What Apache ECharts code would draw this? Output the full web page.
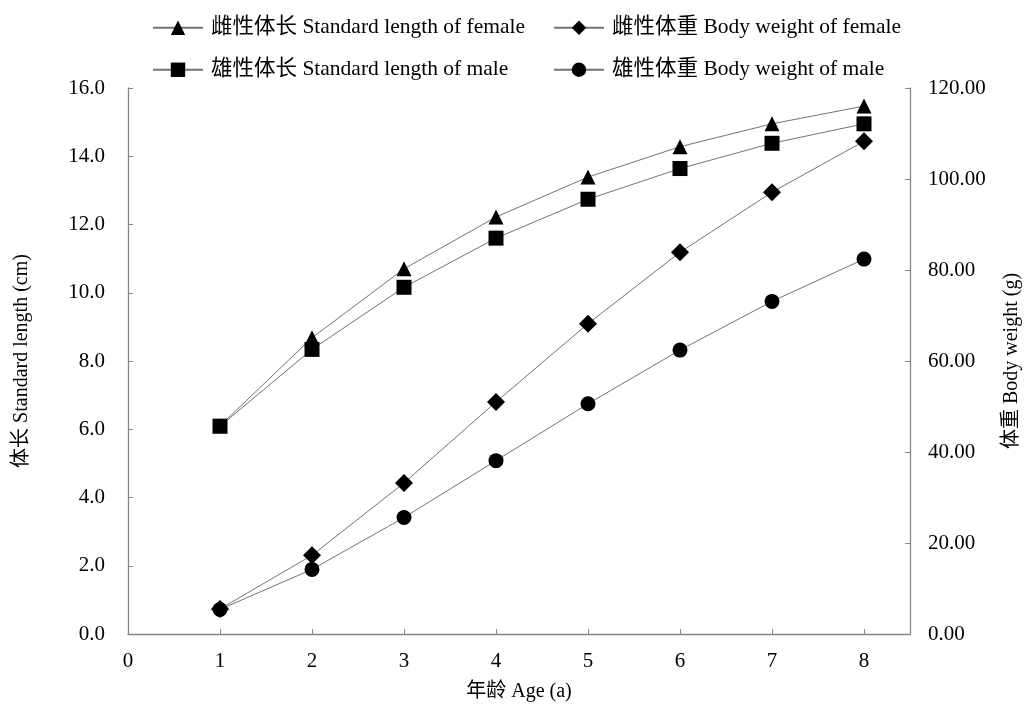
<!DOCTYPE html>
<html>
<head>
<meta charset="utf-8">
<script src="https://cdn.jsdelivr.net/npm/echarts@6/dist/echarts.min.js"></script>
<style>
  html, body { margin: 0; padding: 0; background: #fff; }
  #chart { width: 1030px; height: 707px; }
</style>
</head>
<body>
<div id="chart"></div>
<script>
// ages (a)
const ages = [1, 2, 3, 4, 5, 6, 7, 8];
const xTicks = [0, 1, 2, 3, 4, 5, 6, 7, 8];

// standard length (cm), left axis
const lengthFemale = [6.1, 8.68, 10.7, 12.22, 13.39, 14.28, 14.95, 15.47];
const lengthMale = [6.09, 8.34, 10.16, 11.6, 12.74, 13.64, 14.38, 14.95];

// body weight (g), right axis
const weightFemale = [5.5, 17.3, 33.2, 51.0, 68.2, 83.9, 97.1, 108.3];
const weightMale = [5.4, 14.2, 25.6, 38.1, 50.6, 62.4, 73.1, 82.4];

const names = [
    '雌性体长 Standard length of female',
    '雌性体重 Body weight of female',
    '雄性体长 Standard length of male',
    '雄性体重 Body weight of male'
];

const FONT = "'Liberation Serif', 'Noto Sans CJK SC', serif";
const AXIS_COLOR = '#868686';
const LINE_COLOR = '#737373';

function pairs(vals) {
    return ages.map((a, i) => [a, vals[i]]);
}

function makeSeries(name, vals, symbol, size, yIdx) {
    return {
        name: name,
        type: 'line',
        yAxisIndex: yIdx,
        data: pairs(vals),
        symbol: symbol,
        symbolSize: size,
        showAllSymbol: true,
        lineStyle: { color: LINE_COLOR, width: 1 },
        itemStyle: { color: '#000', borderWidth: 0 },
        emphasis: { disabled: true },
        animation: false
    };
}

function legendAt(name, left, top) {
    return {
        data: [name],
        left: left,
        top: top,
        itemWidth: 50,
        itemHeight: 18,
        itemGap: 0,
        textStyle: { fontFamily: FONT, fontSize: 21.5, color: '#000', padding: [0, 0, 0, 3] },
        selectedMode: false
    };
}

const chart = echarts.init(document.getElementById('chart'));

const option = {
    backgroundColor: '#fff',
    animation: false,
    legend: [
        legendAt(names[0], 147, 12),
        legendAt(names[1], 548, 12),
        legendAt(names[2], 147, 54),
        legendAt(names[3], 548, 54)
    ],
    grid: { left: 128, right: 118, top: 88, bottom: 70, containLabel: false },
    xAxis: {
        type: 'value',
        min: 0,
        max: 8.5,
        interval: 1,
        name: '年龄 Age (a)',
        nameLocation: 'middle',
        nameGap: 48,
        nameTextStyle: { fontFamily: FONT, fontSize: 20, color: '#000' },
        axisLine: { lineStyle: { color: AXIS_COLOR, width: 1.3 } },
        axisTick: { inside: true, length: 5, lineStyle: { color: AXIS_COLOR }, customValues: ages },
        axisLabel: { customValues: xTicks, fontFamily: FONT, fontSize: 21, color: '#000', margin: 17 },
        splitLine: { show: false }
    },
    yAxis: [
        {
            type: 'value',
            min: 0,
            max: 16,
            interval: 2,
            position: 'left',
            name: '体长 Standard length (cm)',
            nameLocation: 'middle',
            nameGap: 96,
            nameTextStyle: { fontFamily: FONT, fontSize: 20, color: '#000' },
            axisLine: { show: true, lineStyle: { color: AXIS_COLOR, width: 1.3 } },
            axisTick: { show: true, inside: true, length: 5, lineStyle: { color: AXIS_COLOR } },
            axisLabel: {
                fontFamily: FONT, fontSize: 21, color: '#000', margin: 23,
                formatter: v => v.toFixed(1)
            },
            splitLine: { show: false }
        },
        {
            type: 'value',
            min: 0,
            max: 120,
            interval: 20,
            position: 'right',
            name: '体重 Body weight (g)',
            nameLocation: 'middle',
            nameGap: 92,
            nameTextStyle: { fontFamily: FONT, fontSize: 20, color: '#000' },
            axisLine: { show: true, lineStyle: { color: AXIS_COLOR, width: 1.3 } },
            axisTick: { show: true, inside: true, length: 5, lineStyle: { color: AXIS_COLOR } },
            axisLabel: {
                fontFamily: FONT, fontSize: 21, color: '#000', margin: 18,
                formatter: v => v.toFixed(2)
            },
            splitLine: { show: false }
        }
    ],
    series: [
        makeSeries(names[0], lengthFemale, 'triangle', 15, 0),
        makeSeries(names[2], lengthMale, 'rect', 15, 0),
        makeSeries(names[1], weightFemale, 'diamond', 18, 1),
        makeSeries(names[3], weightMale, 'circle', 15, 1)
    ]
};

chart.setOption(option);
</script>
</body>
</html>
